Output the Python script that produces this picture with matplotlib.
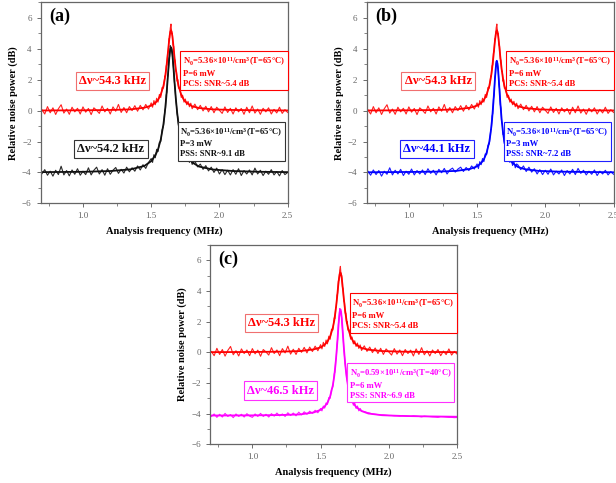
import matplotlib
matplotlib.use('Agg')
import matplotlib.pyplot as plt
from matplotlib.ticker import MultipleLocator

plt.rcParams['font.family'] = ['Liberation Serif', 'DejaVu Serif']
plt.rcParams['mathtext.fontset'] = 'custom'
plt.rcParams['mathtext.rm'] = 'Liberation Serif'
plt.rcParams['mathtext.bf'] = 'Liberation Serif:bold'
plt.rcParams['mathtext.default'] = 'bf'

# frecuencia de analisis (MHz) de las trazas medidas
freq = [0.70, 0.72, 0.74, 0.76, 0.78, 0.80, 0.82, 0.84, 0.86, 0.88,
        0.90, 0.92, 0.94, 0.96, 0.98, 1.00, 1.02, 1.04, 1.06, 1.08,
        1.10, 1.12, 1.14, 1.16, 1.18, 1.20, 1.22, 1.24, 1.26, 1.28,
        1.30, 1.32, 1.34, 1.36, 1.38, 1.40, 1.42, 1.44, 1.46, 1.48,
        1.50, 1.51, 1.52, 1.53, 1.54, 1.55, 1.56, 1.57, 1.58, 1.59,
        1.600, 1.605, 1.610, 1.615, 1.620, 1.625, 1.630, 1.635, 1.640, 1.645,
        1.650, 1.655, 1.660, 1.665, 1.670, 1.675, 1.680, 1.685, 1.690, 1.695, 1.700,
        1.71, 1.72, 1.73, 1.74, 1.75, 1.76, 1.77, 1.78, 1.79,
        1.80, 1.82, 1.84, 1.86, 1.88, 1.90, 1.92, 1.94, 1.96, 1.98,
        2.00, 2.02, 2.04, 2.06, 2.08, 2.10, 2.12, 2.14, 2.16, 2.18,
        2.20, 2.22, 2.24, 2.26, 2.28, 2.30, 2.32, 2.34, 2.36, 2.38,
        2.40, 2.42, 2.44, 2.46, 2.48, 2.50]

# PCS, P=6 mW (rojo, igual en los tres paneles)
red_pcs = [0.05, -0.22, 0.26, -0.14, 0.18, -0.25, 0.12, 0.38, -0.16, 0.10,
           -0.24, 0.22, -0.08, 0.15, -0.22, 0.24, -0.10, 0.14, -0.26, 0.18,
           0.02, -0.18, 0.30, -0.08, 0.15, -0.22, 0.24, -0.04, 0.40, -0.12,
           0.20, -0.14, 0.26, 0.00, 0.32, -0.04, 0.34, 0.05, 0.40, 0.10,
           0.50, 0.22, 0.65, 0.38, 0.80, 0.55, 1.05, 0.85, 1.50, 1.45,
           2.25, 2.20, 2.90, 2.95, 3.70, 3.85, 4.65, 4.70, 5.35, 5.60,
           5.00, 5.00, 4.25, 4.15, 3.35, 3.25, 2.55, 2.55, 1.90, 2.00, 1.45,
           1.45, 0.85, 1.00, 0.55, 0.75, 0.38, 0.60, 0.25, 0.48,
           0.12, 0.42, 0.06, 0.34, -0.02, 0.28, -0.08, 0.26, -0.14, 0.22,
           0.02, -0.18, 0.24, -0.12, 0.15, -0.22, 0.18, -0.08, 0.14, -0.24,
           0.22, -0.14, 0.30, -0.16, 0.10, -0.24, 0.15, -0.08, 0.18, -0.22,
           0.08, -0.15, 0.22, -0.18, 0.06, -0.12]

# PSS, P=3 mW (negro, panel a)
black_pss = [-4.08, -3.82, -4.18, -3.92, -4.24, -3.86, -4.14, -3.60, -4.16, -3.88,
             -4.22, -3.84, -4.12, -3.76, -4.18, -3.92, -4.14, -3.70, -4.16, -3.86,
             -3.66, -4.10, -3.82, -4.18, -3.76, -4.12, -3.86, -3.68, -4.06, -3.80,
             -4.04, -3.66, -3.96, -3.70, -3.92, -3.58, -3.84, -3.50, -3.74, -3.36,
             -3.10, -3.35, -2.85, -3.05, -2.50, -2.65, -2.05, -2.00, -1.25, -1.00,
             0.00, 0.15, 1.00, 1.20, 2.15, 2.40, 3.35, 3.50, 4.20, 3.95,
             3.95, 3.65, 3.05, 2.60, 1.85, 1.40, 0.75, 0.35, -0.20, -0.45, -0.90,
             -1.25, -2.05, -2.10, -2.70, -2.55, -3.10, -2.90, -3.35, -3.10,
             -3.48, -3.26, -3.64, -3.46, -3.80, -3.56, -3.90, -3.66, -4.00, -3.72,
             -4.10, -3.82, -4.14, -3.86, -4.16, -3.82, -4.12, -3.76, -4.20, -3.88,
             -4.10, -3.84, -4.16, -3.72, -4.10, -3.86, -4.20, -3.92, -4.12, -3.82,
             -4.16, -3.94, -4.22, -3.88, -4.14, -4.00]

# PSS, P=3 mW (azul, panel b)
blue_pss = [-3.92, -4.18, -3.84, -4.14, -3.88, -4.24, -3.92, -4.12, -3.70, -4.16,
            -3.86, -4.10, -3.80, -4.20, -3.92, -4.12, -3.78, -4.16, -3.88, -4.10,
            -3.84, -4.14, -3.76, -4.06, -3.86, -4.16, -3.80, -4.02, -3.74, -4.10,
            -3.84, -3.72, -3.98, -3.78, -3.66, -3.94, -3.68, -3.88, -3.58, -3.78,
            -3.45, -3.75, -3.30, -3.50, -3.10, -3.30, -2.80, -2.85, -2.25, -2.15,
            -1.25, -1.20, -0.35, -0.20, 0.75, 1.00, 2.10, 2.35, 3.20, 3.25,
            2.95, 2.70, 1.70, 1.40, 0.40, 0.15, -0.75, -0.85, -1.55, -1.55, -2.15,
            -2.25, -2.90, -2.80, -3.35, -3.10, -3.55, -3.30, -3.70, -3.45,
            -3.52, -3.82, -3.58, -3.94, -3.66, -3.98, -3.76, -4.10, -3.82, -4.14,
            -3.86, -4.12, -3.78, -4.16, -3.92, -4.10, -3.84, -4.20, -3.88, -4.10,
            -3.80, -4.14, -3.74, -4.06, -3.86, -4.16, -3.92, -4.12, -3.84, -4.20,
            -3.92, -4.10, -3.86, -4.16, -3.94, -4.12]

# PSS, P=6 mW, T=40 C (magenta, panel c)
magenta_pss = [-4.18, -4.02, -4.24, -4.04, -4.22, -3.98, -4.18, -4.06, -4.26, -4.02,
               -4.18, -4.04, -4.22, -4.00, -4.16, -4.24, -4.02, -4.18, -3.98, -4.18,
               -4.04, -4.22, -4.00, -4.16, -3.96, -4.14, -4.02, -4.18, -3.94, -4.12,
               -3.96, -4.14, -3.90, -4.08, -3.88, -4.04, -3.84, -3.98, -3.78, -3.94,
               -3.66, -3.82, -3.50, -3.64, -3.30, -3.40, -2.95, -3.00, -2.40, -2.25,
               -1.40, -1.30, -0.55, -0.35, 0.50, 0.85, 1.80, 2.10, 2.85, 2.70,
               2.60, 2.20, 1.55, 1.00, 0.30, -0.25, -0.75, -1.15, -1.55, -1.85, -2.05,
               -2.45, -3.00, -3.00, -3.45, -3.30, -3.66, -3.50, -3.82, -3.66,
               -3.82, -3.86, -3.92, -3.96, -4.02, -4.04, -4.06, -4.08, -4.08, -4.10,
               -4.12, -4.12, -4.14, -4.14, -4.16, -4.12, -4.14, -4.16, -4.18, -4.14,
               -4.16, -4.18, -4.21, -4.16, -4.18, -4.19, -4.21, -4.22, -4.24, -4.19,
               -4.20, -4.22, -4.24, -4.24, -4.26, -4.25]

# curvas de ajuste (Lorentz)
fit_freq = [0.70, 1.00, 1.20, 1.35, 1.45, 1.50, 1.53, 1.55, 1.57, 1.59,
            1.60, 1.61, 1.62, 1.625, 1.63, 1.635, 1.64, 1.645, 1.65, 1.655,
            1.66, 1.665, 1.67, 1.68, 1.69, 1.70, 1.72, 1.74, 1.76, 1.80,
            1.85, 1.95, 2.10, 2.30, 2.50]
red_fit = [0.01, 0.02, 0.04, 0.08, 0.19, 0.32, 0.50, 0.69, 1.03, 1.61,
           2.07, 2.70, 3.51, 3.97, 4.42, 4.82, 5.10, 5.20, 5.10, 4.82,
           4.42, 3.97, 3.51, 2.70, 2.07, 1.61, 1.03, 0.69, 0.50, 0.28,
           0.17, 0.08, 0.04, 0.02, 0.01]
black_fit = [-3.98, -3.96, -3.91, -3.80, -3.58, -3.27, -2.90, -2.51, -1.88, -0.86,
             -0.12, 0.82, 1.95, 2.56, 3.14, 3.64, 3.98, 4.10, 3.98, 3.64,
             3.14, 2.56, 1.95, 0.82, -0.12, -0.86, -1.88, -2.51, -2.90, -3.35,
             -3.62, -3.81, -3.91, -3.96, -3.98]
blue_fit = [-3.99, -3.97, -3.95, -3.90, -3.77, -3.61, -3.39, -3.15, -2.73, -2.00,
            -1.40, -0.57, 0.56, 1.22, 1.91, 2.55, 3.03, 3.20, 3.03, 2.55,
            1.91, 1.22, 0.56, -0.57, -1.40, -2.00, -2.73, -3.15, -3.39, -3.65,
            -3.79, -3.90, -3.95, -3.97, -3.99]
magenta_fit = [-4.12, -4.11, -4.09, -4.05, -3.92, -3.75, -3.53, -3.29, -2.87, -2.14,
               -1.55, -0.74, 0.34, 0.97, 1.61, 2.21, 2.64, 2.80, 2.64, 2.21,
               1.61, 0.97, 0.34, -0.74, -1.55, -2.14, -2.87, -3.32, -3.56, -3.83,
               -3.99, -4.10, -4.15, -4.18, -4.20]

# textos
panel_labels = ['(a)', '(b)', '(c)']
lw_pcs = '\u0394\u03bd~54.3 kHz'
lw_pss = ['\u0394\u03bd~54.2 kHz', '\u0394\u03bd~44.1 kHz', '\u0394\u03bd~46.5 kHz']
info_pcs = 'N$_0$=5.36\u00d710$^{11}$/cm$^3$(T=65\u00b0C)\nP=6 mW\nPCS: SNR~5.4 dB'
info_pss = ['N$_0$=5.36\u00d710$^{11}$/cm$^3$(T=65\u00b0C)\nP=3 mW\nPSS: SNR~9.1 dB',
            'N$_0$=5.36\u00d710$^{11}$/cm$^3$(T=65\u00b0C)\nP=3 mW\nPSS: SNR~7.2 dB',
            'N$_0$=0.59\u00d710$^{11}$/cm$^3$(T=40\u00b0C)\nP=6 mW\nPSS: SNR~6.9 dB']

pss_traces = [black_pss, blue_pss, magenta_pss]
pss_fits = [black_fit, blue_fit, magenta_fit]
pss_colors = ['#111111', '#0000ff', '#ff00ff']
pss_edges = ['#333333', '#2020ff', '#ff30ff']

fig = plt.figure(figsize=(6.16, 4.83), dpi=100)
positions = [[0.066, 0.579, 0.401, 0.416],
             [0.595, 0.579, 0.401, 0.416],
             [0.341, 0.080, 0.401, 0.413]]

for i, pos in enumerate(positions):
    ax = fig.add_axes(pos)
    ax.plot(freq, red_pcs, color='#ff2020', lw=0.8)
    ax.plot(fit_freq, red_fit, color='#ff0000', lw=1.3)
    ax.plot(freq, pss_traces[i], color=pss_colors[i], lw=0.8, alpha=0.9)
    ax.plot(fit_freq, pss_fits[i], color=pss_colors[i], lw=1.3)

    ax.set_xlim(0.69, 2.5)
    ax.set_ylim(-6, 7)
    ax.xaxis.set_major_locator(MultipleLocator(0.5))
    ax.xaxis.set_minor_locator(MultipleLocator(0.25))
    ax.yaxis.set_major_locator(MultipleLocator(2))
    ax.yaxis.set_minor_locator(MultipleLocator(1))
    ax.tick_params(which='both', direction='out', top=False, right=False,
                   color='#555555', labelsize=6.5, labelcolor='#666666')
    ax.tick_params(which='major', length=3, width=0.6)
    ax.tick_params(which='minor', length=2, width=0.5)
    for s in ax.spines.values():
        s.set_color('#666666')
        s.set_linewidth(0.9)

    ax.set_xlabel('Analysis frequency (MHz)', fontsize=7.5, fontweight='bold', labelpad=4)
    ax.set_ylabel('Relative noise power (dB)', fontsize=7.5, fontweight='bold', labelpad=3)

    ax.text(0.035, 0.93, panel_labels[i], transform=ax.transAxes, fontsize=13,
            fontweight='bold', va='center', ha='left')

    # anchos de linea
    ax.text(0.29, 0.61, lw_pcs, transform=ax.transAxes, fontsize=9, color='#ff0000',
            fontweight='bold', ha='center', va='center',
            bbox=dict(boxstyle='square,pad=0.25', fc='white', ec='#f07070', lw=0.8))
    ax.text(0.285, 0.27, lw_pss[i], transform=ax.transAxes, fontsize=9, color=pss_colors[i],
            fontweight='bold', ha='center', va='center',
            bbox=dict(boxstyle='square,pad=0.25', fc='white', ec=pss_edges[i], lw=0.8))

    # cajas de informacion
    ax.text(0.575, 0.735, info_pcs, transform=ax.transAxes, fontsize=6.2, color='#ff0000',
            fontweight='bold', ha='left', va='top', linespacing=1.3,
            bbox=dict(boxstyle='square,pad=0.3', fc='white', ec='#ff0000', lw=0.8))
    ax.text(0.565, 0.385, info_pss[i], transform=ax.transAxes, fontsize=6.2, color=pss_colors[i],
            fontweight='bold', ha='left', va='top', linespacing=1.3,
            bbox=dict(boxstyle='square,pad=0.3', fc='white', ec=pss_edges[i], lw=0.8))

fig.savefig('out.png', dpi=100)
